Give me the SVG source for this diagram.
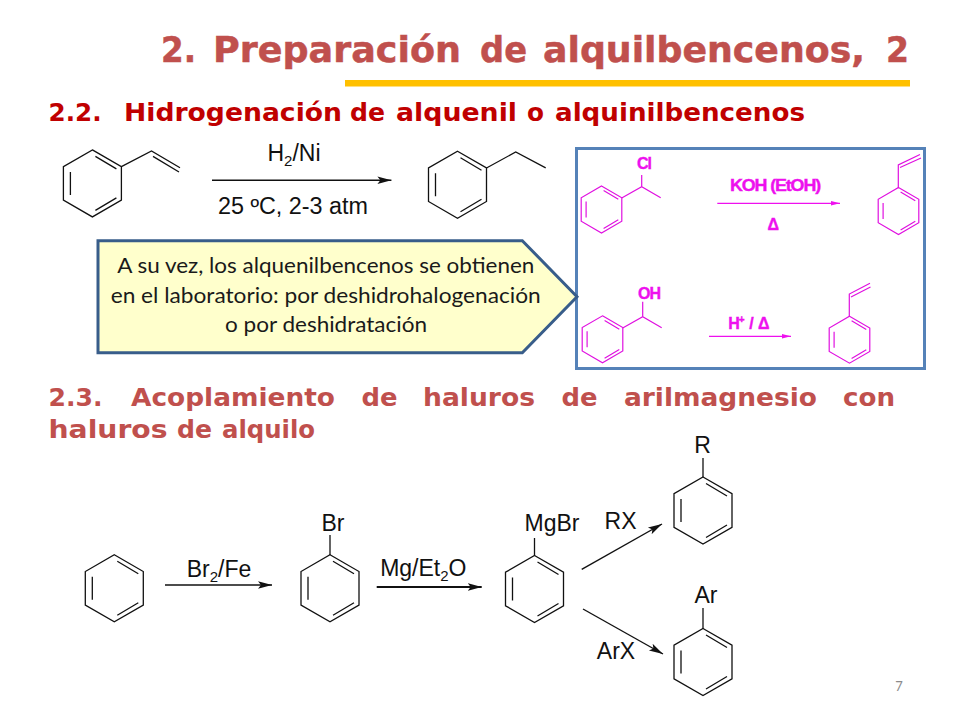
<svg xmlns="http://www.w3.org/2000/svg" width="960" height="720" viewBox="0 0 960 720">
<style>
.t{font-family:"DejaVu Sans",Verdana,sans-serif;font-weight:700}
#title{stroke:#c0504d;stroke-width:.5}
.c{font-family:"Liberation Sans",Arial,sans-serif;font-size:23px;fill:#111}
.m{font-family:"Liberation Sans",Arial,sans-serif;font-size:16px;font-weight:700;fill:#ee10ee;stroke:#ee10ee;stroke-width:.4;letter-spacing:-1px}
.k{fill:none;stroke:#111;stroke-width:1.3}
.p{fill:none;stroke:#e010e0;stroke-width:1.2}
.r{fill:none;stroke:#e010e0;stroke-width:1.7}
.a{stroke:#111;stroke-width:1.4;fill:none}
.a2{stroke:#111;stroke-width:2;fill:none}
.b{font-family:Lato,"Open Sans",sans-serif;font-size:21px;fill:#1a1a1a}
.mid{text-anchor:middle}
</style>
<defs>
<path id="ring" d="M0-33.5 29-16.75V16.75L0 33.5-29 16.75V-16.75ZM3-27 24-14.5M3 27 24 14.5M-22-11.5V11.5"/>
<marker id="ah" markerUnits="userSpaceOnUse" markerWidth="15" markerHeight="10" refX="14" refY="5" orient="auto"><path d="M0 1.2 14 5 0 8.8 3 5Z" fill="#111"/></marker>
<marker id="am" markerUnits="userSpaceOnUse" markerWidth="10" markerHeight="6" refX="9" refY="3" orient="auto"><path d="M0 .8 9 3 0 5.2Z" fill="#ee10ee"/></marker>
</defs>
<rect width="960" height="720" fill="#fff"/>
<g id="title" class="t" font-size="35" fill="#c0504d">
<text x="161" y="62" textLength="35" lengthAdjust="spacingAndGlyphs">2.</text>
<text x="213" y="62" textLength="248" lengthAdjust="spacingAndGlyphs">Preparación</text>
<text x="480" y="62" textLength="47" lengthAdjust="spacingAndGlyphs">de</text>
<text x="543" y="62" textLength="322" lengthAdjust="spacingAndGlyphs">alquilbencenos,</text>
<text x="886" y="62" textLength="23" lengthAdjust="spacingAndGlyphs">2</text>
</g>
<rect id="rule" x="345" y="80" width="565" height="6.5" fill="#ffc000"/>
<g id="h22" class="t" font-size="24" fill="#c00000">
<text x="48.5" y="121" textLength="53" lengthAdjust="spacingAndGlyphs">2.2.</text>
<text x="124" y="121" textLength="218" lengthAdjust="spacingAndGlyphs">Hidrogenación</text>
<text x="350" y="121" textLength="35" lengthAdjust="spacingAndGlyphs">de</text>
<text x="396" y="121" textLength="121" lengthAdjust="spacingAndGlyphs">alquenil</text>
<text x="527" y="121" textLength="17" lengthAdjust="spacingAndGlyphs">o</text>
<text x="555" y="121" textLength="250" lengthAdjust="spacingAndGlyphs">alquinilbencenos</text>
</g>
<g id="h23" class="t" font-size="24" fill="#c0504d">
<text x="48.5" y="405.5" textLength="54" lengthAdjust="spacingAndGlyphs">2.3.</text>
<text x="131" y="405.5" textLength="204" lengthAdjust="spacingAndGlyphs">Acoplamiento</text>
<text x="361.500" y="405.5" textLength="36" lengthAdjust="spacingAndGlyphs">de</text>
<text x="423" y="405.5" textLength="112" lengthAdjust="spacingAndGlyphs">haluros</text>
<text x="561.500" y="405.5" textLength="36" lengthAdjust="spacingAndGlyphs">de</text>
<text x="624" y="405.5" textLength="193" lengthAdjust="spacingAndGlyphs">arilmagnesio</text>
<text x="843" y="405.5" textLength="52" lengthAdjust="spacingAndGlyphs">con</text>
<text x="48.5" y="437.500" textLength="119" lengthAdjust="spacingAndGlyphs">haluros</text>
<text x="177" y="437.500" textLength="35" lengthAdjust="spacingAndGlyphs">de</text>
<text x="222" y="437.500" textLength="93" lengthAdjust="spacingAndGlyphs">alquilo</text>
</g>
<g id="styrene-a"><use href="#ring" class="k" x="92.4" y="183.4"/><path class="k" d="M121.400 166.700 151.500 151 180 167.800M153 156.400 179 172"/></g>
<g id="ethylbenzene"><use href="#ring" class="k" x="457.500" y="184.700"/><path class="k" d="M486.500 168 515.700 152 545.700 167.800"/></g>
<g id="blue-box"><rect x="576.5" y="148.5" width="348" height="220" fill="#fff" stroke="#5582b8" stroke-width="3"/></g>
<g id="callout"><path d="M98 240.7H522.3L577 296.7 522.3 352.7H98Z" fill="#ffffcc" stroke="#385d8a" stroke-width="3"/>
<text class="b" x="117.300" y="273.3" textLength="417" lengthAdjust="spacingAndGlyphs">A su vez, los alquenilbencenos se obtienen</text>
<text class="b" x="110.700" y="302.7" textLength="430" lengthAdjust="spacingAndGlyphs">en el laboratorio: por deshidrohalogenación</text>
<text class="b" x="225" y="331.7" textLength="202" lengthAdjust="spacingAndGlyphs">o por deshidratación</text></g>
<g id="cl-compound"><use href="#ring" class="r" transform="translate(601.5 209.5) scale(.7)"/><path class="p" d="M621.7 198 641.7 186.7 660.7 197.7M641.7 186.7V175"/><text class="m mid" x="644" y="169">Cl</text></g>
<g id="styrene-b"><use href="#ring" class="r" transform="translate(898.5 211) scale(.7)"/><path class="p" d="M898.3 188.3V165L920 154.5M900 167.5 921 158"/></g>
<g id="oh-compound"><use href="#ring" class="r" transform="translate(602.5 339.3) scale(.7)"/><path class="p" d="M622.7 328 642.7 316.7 661.7 327.7M642.7 316.7V301.7"/><text class="m mid" x="649" y="299.3">OH</text></g>
<g id="styrene-c"><use href="#ring" class="r" transform="translate(849.5 339.7) scale(.7)"/><path class="p" d="M849.3 316.7V294L870 283.3M851 297 870.5 287"/></g>
<g id="benzene"><use href="#ring" class="k" x="114.300" y="588.300"/></g>
<g id="bromobenzene"><use href="#ring" class="k" x="330" y="588.300"/><path class="k" d="M330 555V535"/><text class="c mid" x="333" y="530.700">Br</text></g>
<g id="phmgbr"><use href="#ring" class="k" x="534.500" y="589"/><path class="k" d="M534.500 556V538"/><text class="c mid" x="552" y="531">MgBr</text></g>
<g id="phr"><use href="#ring" class="k" x="703" y="510.500"/><path class="k" d="M703 477V458"/><text class="c mid" x="702.500" y="452.700">R</text></g>
<g id="phar"><use href="#ring" class="k" x="703" y="662"/><path class="k" d="M703 629V608"/><text class="c mid" x="706" y="603.300">Ar</text></g>
<g id="connectors">
<path class="a" d="M212 180.300H391.400" marker-end="url(#ah)"/>
<path class="a" d="M165 585H272" marker-end="url(#ah)"/>
<path class="a2" d="M376.700 587H481.700" marker-end="url(#ah)"/>
<path class="a" d="M581.700 569.300 662 524" marker-end="url(#ah)"/>
<path class="a" d="M583 609 663 654" marker-end="url(#ah)"/>
<path d="M717.3 203.3H840" stroke="#ee10ee" stroke-width="1.2" marker-end="url(#am)"/>
<path d="M709 336.3H791" stroke="#ee10ee" stroke-width="1.2" marker-end="url(#am)"/>
</g>
<g id="labels">
<text class="c mid" x="294" y="161">H<tspan font-size="15" dy="5">2</tspan><tspan dy="-5">/Ni</tspan></text>
<text class="c mid" x="293" y="213.500" textLength="150" lengthAdjust="spacingAndGlyphs">25 ºC, 2-3 atm</text>
<text class="c mid" x="219" y="577.300">Br<tspan font-size="15" dy="5">2</tspan><tspan dy="-5">/Fe</tspan></text>
<text class="c mid" x="423.300" y="576">Mg/Et<tspan font-size="15" dy="5">2</tspan><tspan dy="-5">O</tspan></text>
<text class="c mid" x="620.500" y="529.300">RX</text>
<text class="c mid" x="616" y="659.300">ArX</text>
<text class="m" x="730" y="190.7" textLength="90" lengthAdjust="spacingAndGlyphs">KOH (EtOH)</text>
<text class="m mid" x="772.700" y="230">Δ</text>
<text class="m" x="728.300" y="329">H<tspan font-size="10" dy="-6">+</tspan><tspan dy="6" dx="2"> / </tspan><tspan dx="2">Δ</tspan></text>
</g>
<text id="page" x="899" y="691" font-family="Lato,sans-serif" font-size="13" fill="#8b8b8b" text-anchor="middle">7</text>
</svg>
